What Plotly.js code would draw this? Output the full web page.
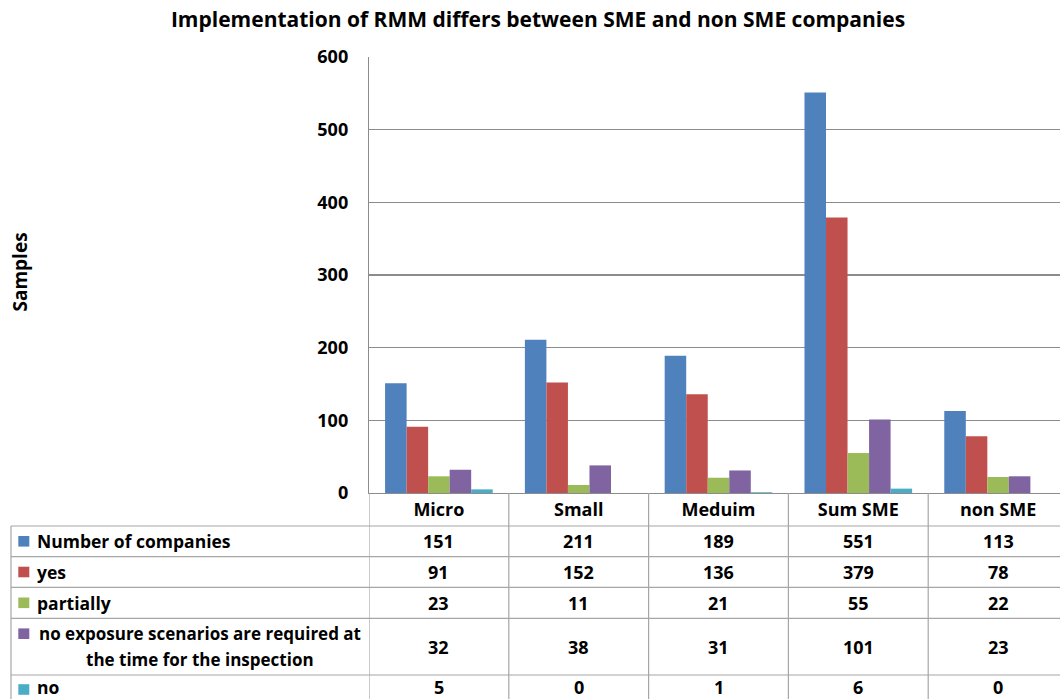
<!DOCTYPE html>
<html><head><meta charset="utf-8">
<script src="https://cdn.plot.ly/plotly-3.0.1.min.js"></script>
<style>html,body{margin:0;padding:0;background:#fff;overflow:hidden}#chart{width:1060px;height:699px}</style>
</head><body><div id="chart"></div>
<script>
// ---- data ----
const categories = ["Micro", "Small", "Meduim", "Sum SME", "non SME"];
const seriesNames = ["Number of companies", "yes", "partially",
  "no exposure scenarios are required at the time for the inspection", "no"];
const numberOfCompanies = [151, 211, 189, 551, 113];
const yes = [91, 152, 136, 379, 78];
const partially = [23, 11, 21, 55, 22];
const noExposureScenarios = [32, 38, 31, 101, 23];
const no = [5, 0, 1, 6, 0];
const yTickValues = [0, 100, 200, 300, 400, 500, 600];
const legendLines = [["Number of companies"], ["yes"], ["partially"],
  ["no exposure scenarios are required at", "the time for the inspection"], ["no"]];

// ---- style ----
const seriesValues = [numberOfCompanies, yes, partially, noExposureScenarios, no];
const colors = ["#4F81BD", "#C0504D", "#9BBB59", "#8064A2", "#4BACC6"];
const FONT = "Open Sans, sans-serif";
const W = 1060, H = 699;
const M = {l: 369, r: 0, t: 57, b: 206};
const plotW = W - M.l - M.r, plotH = H - M.t - M.b;
const bottomPx = H - M.b;
const px = p => (p - M.l) / plotW;      // pixel x -> paper
const py = p => (bottomPx - p) / plotH; // pixel y -> paper
const lineColor = "#8c8c8c";
const tableLine = "#a6a6a6";

const rowEdges = [526, 556.7, 587.3, 618.3, 675, 706];
const rowCenters = [541.3, 572, 602.8, 646.7, 687];

const traces = seriesValues.map((vals, i) => ({
  type: "bar", name: seriesNames[i], x: categories, y: vals,
  marker: {color: colors[i], line: {width: 0}}, showlegend: false,
  hoverinfo: "x+y+name"
}));

const shapes = [];
const annotations = [];

// horizontal table lines
rowEdges.slice(0, 5).forEach(p => shapes.push({
  type: "line", xref: "paper", yref: "paper", x0: px(11), x1: 1, y0: py(p), y1: py(p),
  line: {color: tableLine, width: 1.2}
}));
// left border
shapes.push({type: "line", xref: "paper", yref: "paper", x0: px(11), x1: px(11),
  y0: py(rowEdges[0]), y1: py(H + 5), line: {color: tableLine, width: 1.2}});
// vertical column borders (category boundaries)
categories.forEach((c, j) => shapes.push({
  type: "line", xref: "x", yref: "paper", x0: j - 0.5, x1: j - 0.5, y0: 0, y1: py(H + 5),
  line: {color: tableLine, width: 1.2}
}));

// rows: legend keys, labels, values
seriesValues.forEach((vals, i) => {
  const lines = legendLines[i];
  const cy = rowCenters[i];
  const keyY = lines.length > 1 ? 633.7 : (i === 4 ? 689.5 : cy);
  shapes.push({type: "rect", xref: "paper", yref: "paper",
    x0: px(18.3), x1: px(29.3), y0: py(keyY - 5.3), y1: py(keyY + 5.3),
    fillcolor: colors[i], line: {width: 0}});
  if (lines.length === 1) {
    annotations.push({xref: "paper", yref: "paper", x: px(35), y: py(cy), xanchor: "left",
      yanchor: "middle", text: lines[0], showarrow: false,
      font: {family: FONT, size: 17.5, color: "#000", weight: 700}});
  } else {
    lines.forEach((t, k) => annotations.push({xref: "paper", yref: "paper", x: px(200),
      y: py(k === 0 ? 633.7 : 659.3), xanchor: "center", yanchor: "middle", text: t,
      showarrow: false, font: {family: FONT, size: 17, color: "#000", weight: 700}}));
  }
  vals.forEach((v, j) => annotations.push({xref: "x", yref: "paper", x: categories[j],
    y: py(cy), xanchor: "center", yanchor: "middle", text: String(v), showarrow: false,
    font: {family: FONT, size: 18, color: "#000", weight: 700}}));
});

// y-axis title
annotations.push({xref: "paper", yref: "paper", x: px(19.5), y: py(272), xanchor: "center",
  yanchor: "middle", textangle: -90, text: "Samples", showarrow: false,
  font: {family: FONT, size: 19, color: "#000", weight: 700}});

const layout = {
  width: W, height: H, margin: M, paper_bgcolor: "#fff", plot_bgcolor: "#fff",
  title: {text: "Implementation of RMM differs between SME and non SME companies",
    x: 538 / W, xref: "container", xanchor: "center", y: 1 - 20 / H, yref: "container",
    yanchor: "middle", font: {family: FONT, size: 21, color: "#000", weight: 700}},
  barmode: "group", bargap: 0.23, bargroupgap: 0,
  xaxis: {type: "category", range: [-0.5, -0.5 + plotW / 139.8], showgrid: false,
    showline: true, linecolor: lineColor, linewidth: 1.2, ticks: "", zeroline: false,
    tickfont: {family: FONT, size: 18, color: "#000", weight: 700}, ticklabelstandoff: 0,
    fixedrange: true},
  yaxis: {range: [0, 600], tickvals: yTickValues, showgrid: true, gridcolor: lineColor,
    gridwidth: 1.2, showline: true, linecolor: lineColor, linewidth: 1.2, zeroline: false,
    ticks: "", ticklabelstandoff: 16,
    tickfont: {family: FONT, size: 18, color: "#000", weight: 700}, fixedrange: true},
  shapes: shapes, annotations: annotations, showlegend: false
};

Plotly.newPlot("chart", traces, layout, {displayModeBar: false, staticPlot: true});
</script></body></html>
